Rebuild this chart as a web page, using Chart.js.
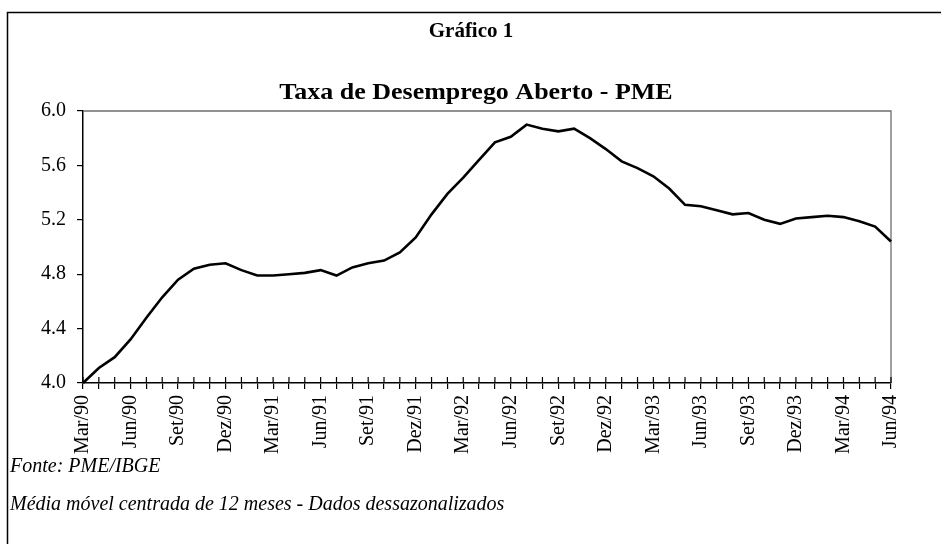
<!DOCTYPE html>
<html>
<head>
<meta charset="utf-8">
<script src="https://cdn.jsdelivr.net/npm/chart.js@4"></script>
<style>
  html, body { margin: 0; padding: 0; background: #fff; }
  #wrap { width: 941px; height: 544px; }
</style>
</head>
<body>
<div id="wrap"><canvas id="grafico" width="941" height="544"></canvas></div>
<script>
// Dados: taxa de desemprego aberto (PME), média móvel 12 meses
const meses = [
  'Mar/90','Abr/90','Mai/90','Jun/90','Jul/90','Ago/90','Set/90','Out/90','Nov/90','Dez/90','Jan/91','Fev/91',
  'Mar/91','Abr/91','Mai/91','Jun/91','Jul/91','Ago/91','Set/91','Out/91','Nov/91','Dez/91','Jan/92','Fev/92',
  'Mar/92','Abr/92','Mai/92','Jun/92','Jul/92','Ago/92','Set/92','Out/92','Nov/92','Dez/92','Jan/93','Fev/93',
  'Mar/93','Abr/93','Mai/93','Jun/93','Jul/93','Ago/93','Set/93','Out/93','Nov/93','Dez/93','Jan/94','Fev/94',
  'Mar/94','Abr/94','Mai/94','Jun/94'
];
const taxa = [
  4.00, 4.11, 4.19, 4.32, 4.48, 4.63, 4.76, 4.84, 4.87, 4.88, 4.83, 4.79,
  4.79, 4.80, 4.81, 4.83, 4.79, 4.85, 4.88, 4.90, 4.96, 5.07, 5.24, 5.39,
  5.51, 5.64, 5.77, 5.81, 5.90, 5.87, 5.85, 5.87, 5.80, 5.72, 5.63, 5.58,
  5.52, 5.43, 5.31, 5.30, 5.27, 5.24, 5.25, 5.20, 5.17, 5.21, 5.22, 5.23,
  5.22, 5.19, 5.15, 5.04
];
const yTicks = [4.0, 4.4, 4.8, 5.2, 5.6, 6.0];
const titulo = 'Gráfico 1';
const subtitulo = 'Taxa de Desemprego Aberto - PME';
const notas = ['Fonte: PME/IBGE', 'Média móvel centrada de 12 meses - Dados dessazonalizados'];

const fonte = '"Liberation Serif", "Times New Roman", serif';

// moldura, títulos, notas e marcas do eixo x para dentro
const extras = {
  id: 'extras',
  beforeDatasetsDraw(chart) {
    const ctx = chart.ctx, a = chart.chartArea;
    ctx.save();
    ctx.strokeStyle = '#6e6e6e';
    ctx.lineWidth = 1.3;
    ctx.beginPath();
    ctx.moveTo(a.left, a.top);
    ctx.lineTo(a.right, a.top);
    ctx.lineTo(a.right, a.bottom);
    ctx.stroke();
    ctx.restore();
  },
  afterDraw(chart) {
    const ctx = chart.ctx, a = chart.chartArea;
    const x = chart.scales.x;
    ctx.save();
    // marcas internas
    ctx.strokeStyle = '#000';
    ctx.lineWidth = 1.2;
    ctx.beginPath();
    for (let i = 0; i < meses.length; i++) {
      const px = x.getPixelForValue(i);
      ctx.moveTo(px, a.bottom);
      ctx.lineTo(px, a.bottom - 6);
    }
    ctx.stroke();

    // moldura externa
    ctx.lineWidth = 1.5;
    ctx.beginPath();
    ctx.moveTo(7.5, 544);
    ctx.lineTo(7.5, 12.5);
    ctx.lineTo(941, 12.5);
    ctx.stroke();

    ctx.fillStyle = '#000';
    ctx.textAlign = 'center';
    ctx.textBaseline = 'middle';
    ctx.font = 'bold 21px ' + fonte;
    ctx.fillText(titulo, 471, 32);

    // subtítulo um pouco mais largo, como no original
    ctx.save();
    ctx.translate(476, 93);
    ctx.scale(1.13, 1);
    ctx.font = 'bold 23px ' + fonte;
    ctx.fillText(subtitulo, 0, 0);
    ctx.restore();

    ctx.textAlign = 'left';
    ctx.font = 'italic 20px ' + fonte;
    ctx.fillText(notas[0], 10, 467);
    ctx.fillText(notas[1], 10, 505);
    ctx.restore();
  }
};

new Chart(document.getElementById('grafico'), {
  type: 'line',
  data: {
    labels: meses,
    datasets: [{
      data: taxa,
      borderColor: '#000',
      borderWidth: 2.6,
      pointRadius: 0,
      tension: 0,
      fill: false,
      clip: false
    }]
  },
  options: {
    responsive: false,
    animation: false,
    layout: { padding: { top: 111, right: 50, bottom: 0, left: 0 } },
    plugins: {
      legend: { display: false },
      tooltip: { enabled: false }
    },
    scales: {
      x: {
        offset: false,
        afterFit(scale) { scale.height = 161; },
        border: { color: '#000', width: 1.5 },
        grid: { drawOnChartArea: false, tickLength: 6, color: '#000', lineWidth: 1.2 },
        ticks: {
          autoSkip: false,
          maxRotation: 90,
          minRotation: 90,
          padding: 6,
          color: '#000',
          font: { family: fonte, size: 20 },
          callback: function(value, index) {
            return index % 3 === 0 ? meses[index] : '';
          }
        }
      },
      y: {
        min: 4.0,
        max: 6.0,
        afterFit(scale) { scale.width = 83; },
        afterBuildTicks(scale) { scale.ticks = yTicks.map(v => ({ value: v })); },
        border: { color: '#000', width: 1.5 },
        grid: { drawOnChartArea: false, tickLength: 6, color: '#000', lineWidth: 1.2 },
        ticks: {
          padding: 11,
          color: '#000',
          font: { family: fonte, size: 20 },
          callback: function(value) { return Number(value).toFixed(1); }
        }
      }
    }
  },
  plugins: [extras]
});
</script>
</body>
</html>
